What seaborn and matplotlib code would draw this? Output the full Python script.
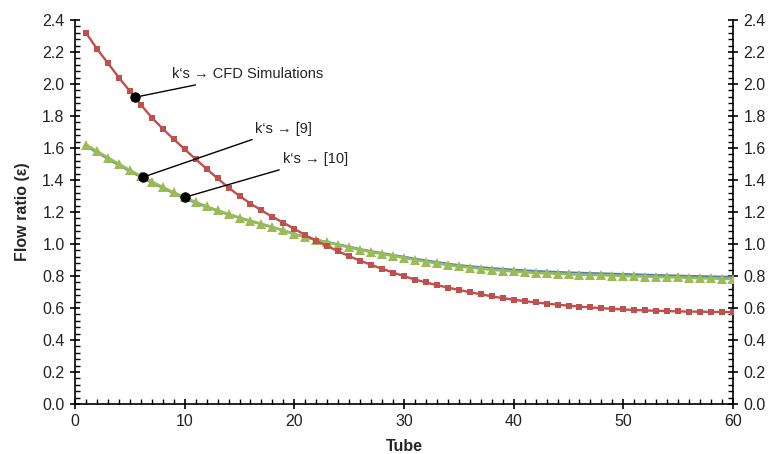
import numpy as np
import pandas as pd
import matplotlib
matplotlib.use("Agg")
import matplotlib.pyplot as plt
from matplotlib.ticker import MultipleLocator
import seaborn as sns

# Flow ratio per tube for three sets of loss coefficients
tubes = list(range(1, 61))

k_cfd = [2.320, 2.220, 2.130, 2.040, 1.955, 1.870, 1.790, 1.720, 1.655, 1.592,
         1.530, 1.470, 1.410, 1.352, 1.300, 1.253, 1.210, 1.170, 1.133, 1.095,
         1.055, 1.020, 0.987, 0.955, 0.924, 0.896, 0.870, 0.845, 0.822, 0.799,
         0.778, 0.760, 0.743, 0.728, 0.713, 0.699, 0.686, 0.673, 0.662, 0.652,
         0.643, 0.635, 0.628, 0.621, 0.615, 0.609, 0.604, 0.599, 0.595, 0.591,
         0.588, 0.585, 0.583, 0.581, 0.579, 0.578, 0.577, 0.576, 0.575, 0.575]

k_ref9 = [1.612, 1.572, 1.532, 1.493, 1.455, 1.419, 1.384, 1.350, 1.317, 1.286,
          1.257, 1.231, 1.207, 1.184, 1.163, 1.143, 1.124, 1.105, 1.085, 1.063,
          1.044, 1.027, 1.012, 0.998, 0.983, 0.968, 0.955, 0.943, 0.931, 0.920,
          0.908, 0.897, 0.887, 0.877, 0.868, 0.861, 0.855, 0.849, 0.844, 0.839,
          0.835, 0.831, 0.828, 0.825, 0.822, 0.820, 0.818, 0.816, 0.814, 0.812,
          0.810, 0.808, 0.806, 0.804, 0.802, 0.800, 0.799, 0.797, 0.796, 0.795]

k_ref10 = [1.620, 1.580, 1.540, 1.500, 1.462, 1.425, 1.390, 1.355, 1.322, 1.292,
           1.262, 1.235, 1.210, 1.187, 1.165, 1.145, 1.126, 1.106, 1.085, 1.062,
           1.042, 1.025, 1.010, 0.995, 0.979, 0.964, 0.950, 0.938, 0.926, 0.914,
           0.901, 0.890, 0.879, 0.869, 0.860, 0.853, 0.846, 0.839, 0.834, 0.829,
           0.824, 0.820, 0.817, 0.815, 0.812, 0.809, 0.807, 0.805, 0.803, 0.801,
           0.799, 0.797, 0.795, 0.793, 0.791, 0.789, 0.787, 0.785, 0.783, 0.781]

labels = ["k\u2018s \u2192 CFD Simulations", "k\u2018s \u2192 [9]", "k\u2018s \u2192 [10]"]

df = pd.DataFrame({"Tube": tubes, "cfd": k_cfd, "ref9": k_ref9, "ref10": k_ref10})

sns.set_theme(style="white")
plt.rcParams["font.family"] = ["Liberation Sans", "DejaVu Sans"]

fig = plt.figure(figsize=(7.72, 4.54), dpi=100)
ax = fig.add_axes([0.0972, 0.110, 0.8523, 0.846])

blue, green, red = "#4F81BD", "#9BBB59", "#C0504D"

sns.lineplot(data=df, x="Tube", y="ref9", color=blue, lw=1.6, ax=ax, zorder=2)
sns.lineplot(data=df, x="Tube", y="ref10", color=green, lw=1.9, marker="^",
             markersize=7, markeredgewidth=0, ax=ax, zorder=3)
sns.lineplot(data=df, x="Tube", y="cfd", color=red, lw=1.7, marker="s",
             markersize=4.0, markeredgewidth=0, ax=ax, zorder=4)

ax.set_xlim(0, 60)
ax.set_ylim(0, 2.4)
ax.xaxis.set_major_locator(MultipleLocator(10))
ax.xaxis.set_minor_locator(MultipleLocator(1))
ax.yaxis.set_major_locator(MultipleLocator(0.2))
ax.yaxis.set_minor_locator(MultipleLocator(0.04))
ax.yaxis.set_major_formatter(matplotlib.ticker.FormatStrFormatter("%.1f"))

for side in ["left", "bottom", "right"]:
    ax.spines[side].set_visible(True)
    ax.spines[side].set_color("black")
    ax.spines[side].set_linewidth(1.2)
ax.spines["top"].set_visible(False)

ax.tick_params(axis="both", which="major", direction="inout", length=7, width=1.2,
               color="black", labelsize=11.5, labelcolor="#222222")
ax.tick_params(axis="both", which="minor", direction="in", length=3.5, width=1.0,
               color="black")
ax.tick_params(axis="y", which="both", left=True, right=True, labelleft=True,
               labelright=True)
ax.tick_params(axis="x", which="both", bottom=True, top=False)
ax.tick_params(axis="y", which="major", pad=4)

ax.set_xlabel("Tube", fontsize=11.5, fontweight="bold", labelpad=7)
ax.set_ylabel("Flow ratio (\u03b5)", fontsize=11.5, fontweight="bold", labelpad=9)

# Callouts: dot on the curve, leader line, label
callouts = [
    (5.45, k_cfd, 8.8, 2.06, labels[0]),
    (6.2, k_ref10, 16.4, 1.72, labels[1]),
    (10.0, k_ref10, 19.0, 1.53, labels[2]),
]
for tx, series, lx, ly, text in callouts:
    ty = float(np.interp(tx, tubes, series))
    ax.annotate(text, xy=(tx, ty), xytext=(lx, ly), fontsize=10.5,
                ha="left", va="center", color="#222222",
                arrowprops=dict(arrowstyle="-", color="black", lw=1.0,
                                shrinkA=1, shrinkB=0), zorder=6)
    ax.plot([tx], [ty], "o", color="black", markersize=6.5, zorder=7)

fig.savefig("out.png", dpi=100)
